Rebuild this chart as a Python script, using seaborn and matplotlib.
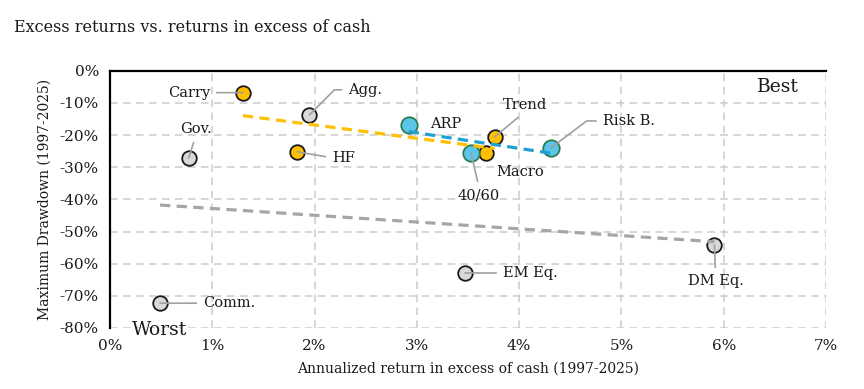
import numpy as np
import pandas as pd
import matplotlib
matplotlib.use("Agg")
import matplotlib.pyplot as plt
import seaborn as sns

# ---- data (in %) ----
names = ["Carry", "HF", "Trend", "Macro",
         "ARP", "40/60", "Risk B.",
         "Agg.", "Gov.", "DM Eq.", "EM Eq.", "Comm."]
excess_return = [1.30, 1.83, 3.76, 3.68,
                 2.92, 3.53, 4.31,
                 1.95, 0.77, 5.91, 3.47, 0.49]
max_drawdown = [-6.8, -25.2, -20.6, -25.5,
                -16.8, -25.6, -24.0,
                -13.7, -27.1, -54.2, -62.9, -72.3]
groups = ["alt"] * 4 + ["mix"] * 3 + ["trad"] * 5

x_ticks = list(range(0, 8))
y_ticks = list(range(-80, 1, 10))

df = pd.DataFrame({"name": names, "ret": excess_return,
                   "dd": max_drawdown, "group": groups})

fill = {"alt": "#FFC000", "mix": "#5CC6EA", "trad": "#D9D9D9"}
edge = {"alt": "#1A1A1A", "mix": "#2E7D4F", "trad": "#1A1A1A"}
trend = {"alt": "#FFC000", "mix": "#1FA0D2", "trad": "#A6A6A6"}
msize = {"alt": 110, "mix": 140, "trad": 110}

# label placement: offset of text in pixels from the point, alignment,
# relpos on the text box, and leader style (None = no leader)
label_pos = {
    "Carry":   ((-33, 0), "right", (1, 0.5), "arc3"),
    "HF":      ((35, -6), "left", (0, 0.5), "arc3"),
    "Trend":   ((30, 32), "center", (0.5, 0), "arc3"),
    "Macro":   ((34, -19), "center", None, None),
    "ARP":     ((21, 1), "left", None, None),
    "40/60":   ((8, -42), "center", (0.5, 1), "arc3"),
    "Risk B.": ((52, 27), "left", (0, 0.5), "angle,angleA=0,angleB=37,rad=0"),
    "Agg.":    ((39, 25), "left", (0, 0.5), "angle,angleA=0,angleB=45,rad=0"),
    "Gov.":    ((7, 29), "center", (0.5, 0), "arc3"),
    "DM Eq.":  ((1, -36), "center", (0.5, 1), "arc3"),
    "EM Eq.":  ((38, 0), "left", (0, 0.5), "arc3"),
    "Comm.":   ((43, 0), "left", (0, 0.5), "arc3"),
}

sns.set_style("white")
plt.rcParams["font.family"] = ["DejaVu Serif"]

fig = plt.figure(figsize=(8.64, 3.89), dpi=100)
ax = fig.add_axes([0.1273, 0.157, 0.8287, 0.661])

# points
for g in ["trad", "alt", "mix"]:
    sub = df[df["group"] == g]
    sns.scatterplot(data=sub, x="ret", y="dd", ax=ax, s=msize[g],
                    color=fill[g], edgecolor=edge[g], linewidth=1.3,
                    zorder=3, legend=False)

# trend lines per group
for g in ["trad", "alt", "mix"]:
    sub = df[df["group"] == g]
    sns.regplot(data=sub, x="ret", y="dd", ax=ax, scatter=False, ci=None,
                truncate=True,
                line_kws=dict(color=trend[g], lw=2.3,
                              linestyle=(0, (3.2, 2.0)), zorder=4))

# labels with leader lines
for _, row in df.iterrows():
    (dx, dy), ha, rel, conn = label_pos[row["name"]]
    arrow = None
    if conn is not None:
        arrow = dict(arrowstyle="-", color="#A0A0A0", lw=1.2,
                     shrinkA=2.5, shrinkB=0, relpos=rel,
                     connectionstyle=conn)
    ax.annotate(row["name"], xy=(row["ret"], row["dd"]), xytext=(dx, dy),
                textcoords="offset pixels", ha=ha, va="center",
                fontsize=10.5, color="#1A1A1A", arrowprops=arrow, zorder=5)

ax.text(6.53, -5, "Best", fontsize=13.5, ha="center", va="center", color="#1A1A1A")
ax.text(0.48, -80.5, "Worst", fontsize=13.5, ha="center", va="center", color="#1A1A1A")

ax.set_xlim(0, 7)
ax.set_ylim(-80, 0)
ax.set_xticks(x_ticks)
ax.set_yticks(y_ticks)
ax.set_xticklabels([f"{t}%" for t in x_ticks])
ax.set_yticklabels([f"{t}%" for t in y_ticks])
ax.tick_params(axis="both", length=0, labelsize=11, colors="#1A1A1A", pad=8)
ax.grid(True, color="#CCCCCC", lw=1.1, linestyle=(0, (5, 3.5)))
ax.set_axisbelow(True)

for side in ["bottom", "right"]:
    ax.spines[side].set_visible(False)
for side in ["top", "left"]:
    ax.spines[side].set_color("black")
    ax.spines[side].set_linewidth(1.6)

ax.set_xlabel("Annualized return in excess of cash (1997-2025)", fontsize=10,
              color="#1A1A1A", labelpad=6)
ax.set_ylabel("Maximum Drawdown (1997-2025)", fontsize=10, color="#1A1A1A",
              labelpad=6)

fig.text(0.016, 0.93, "Excess returns vs. returns in excess of cash",
         fontsize=11.5, color="#1A1A1A", ha="left", va="center")

fig.savefig("out.png", dpi=100)
